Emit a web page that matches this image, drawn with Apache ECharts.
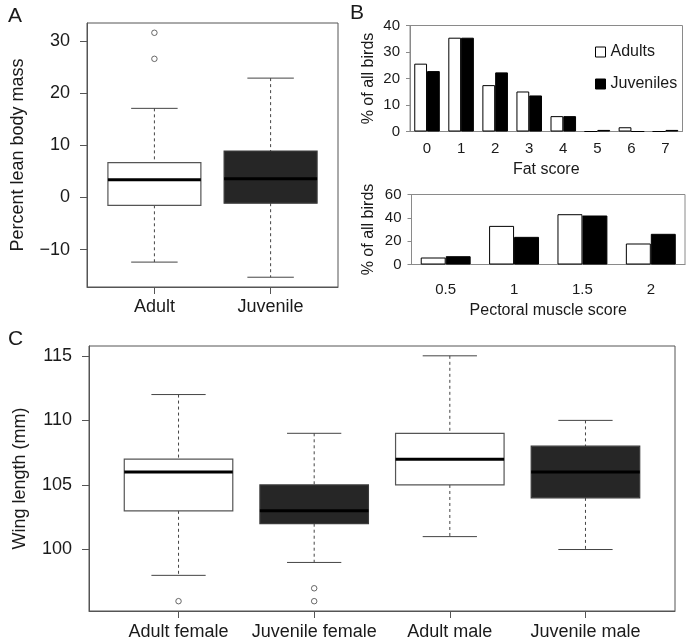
<!DOCTYPE html>
<html>
<head>
<meta charset="utf-8">
<script src="https://cdn.jsdelivr.net/npm/echarts@6/dist/echarts.min.js"></script>
<style>
html,body{margin:0;padding:0;background:#fff;}
#chart{width:688px;height:641px;}
</style>
</head>
<body>
<div id="chart"></div>
<script>
// ---------- Panel A: percent lean body mass ----------
const aCategories = ['Adult', 'Juvenile'];
const aLowWhisker = [-12.4, -15.3];
const aQ1 = [-1.5, -1.1];
const aMedian = [3.4, 3.6];
const aQ3 = [6.7, 8.9];
const aHighWhisker = [17.1, 22.9];
const aOutliers = [[31.6, 26.6], []];
const aTicks = [-10, 0, 10, 20, 30];

// ---------- Panel B: fat score ----------
const fatScores = ['0', '1', '2', '3', '4', '5', '6', '7'];
const fatAdults = [25.6, 35.4, 17.5, 15.1, 5.8, 0, 1.6, 0];
const fatJuveniles = [22.8, 35.4, 22.3, 13.6, 5.8, 0.6, 0, 0.6];

// ---------- Panel B: pectoral muscle score ----------
const muscleScores = ['0.5', '1', '1.5', '2'];
const muscleAdults = [6.0, 33.1, 43.1, 18.0];
const muscleJuveniles = [7.1, 23.7, 42.0, 26.3];

// ---------- Panel C: wing length ----------
const cCategories = ['Adult female', 'Juvenile female', 'Adult male', 'Juvenile male'];
const cLowWhisker = [98, 99, 101, 100];
const cQ1 = [103, 102, 105, 104];
const cMedian = [106, 103, 107, 106];
const cQ3 = [107, 105, 109, 108];
const cHighWhisker = [112, 109, 115, 110];
const cOutliers = [[96], [97, 96], [], []];
const cTicks = [100, 105, 110, 115];

const FONT = '"Liberation Sans", Arial, Helvetica, sans-serif';
const TXT = '#1a1a1a';
const FRAME = '#555';
const XLFRAME = '#8a8a8a';

function boxRows(lo, q1, med, q3, hi) {
  return lo.map((v, i) => [i + 1, lo[i], q1[i], med[i], q3[i], hi[i]]);
}
function outlierRows(out) {
  const rows = [];
  out.forEach((list, i) => list.forEach(v => rows.push([i + 1, v])));
  return rows;
}
function rRange(lo, hi, out) {
  const all = lo.concat(hi, ...out);
  const mn = Math.min(...all), mx = Math.max(...all);
  const pad = 0.04 * (mx - mn);
  return [mn - pad, mx + pad];
}
function xRange(n) {
  return [0.5 - 0.04 * n, n + 0.5 + 0.04 * n];
}
function fmtMinus(v) { return v < 0 ? '\u2212' + Math.abs(v) : String(v); }

function boxRender(params, api) {
  const x = api.value(0);
  const pLo = api.coord([x, api.value(1)]);
  const pQ1 = api.coord([x, api.value(2)]);
  const pMed = api.coord([x, api.value(3)]);
  const pQ3 = api.coord([x, api.value(4)]);
  const pHi = api.coord([x, api.value(5)]);
  const w = api.size([0.8, 0])[0];
  const cx = pLo[0];
  const dark = params.dataIndex % 2 === 1;
  const dash = { stroke: '#444', lineWidth: 1, lineDash: [3, 3] };
  const solid = { stroke: '#444', lineWidth: 1 };
  return {
    type: 'group',
    children: [
      { type: 'line', shape: { x1: cx, y1: pHi[1], x2: cx, y2: pQ3[1] }, style: dash },
      { type: 'line', shape: { x1: cx, y1: pQ1[1], x2: cx, y2: pLo[1] }, style: dash },
      { type: 'line', shape: { x1: cx - w / 4, y1: pHi[1], x2: cx + w / 4, y2: pHi[1] }, style: solid },
      { type: 'line', shape: { x1: cx - w / 4, y1: pLo[1], x2: cx + w / 4, y2: pLo[1] }, style: solid },
      { type: 'rect', shape: { x: cx - w / 2, y: pQ3[1], width: w, height: pQ1[1] - pQ3[1] },
        style: { fill: dark ? '#262626' : '#fff', stroke: dark ? '#3a3a3a' : '#555', lineWidth: 1.2 } },
      { type: 'line', shape: { x1: cx - w / 2, y1: pMed[1], x2: cx + w / 2, y2: pMed[1] },
        style: { stroke: '#000', lineWidth: 3 } }
    ]
  };
}

const aY = rRange(aLowWhisker, aHighWhisker, aOutliers);
const cY = rRange(cLowWhisker, cHighWhisker, cOutliers);
const aX = xRange(aCategories.length);
const cX = xRange(cCategories.length);
const aXticks = aCategories.map((c, i) => i + 1);
const cXticks = cCategories.map((c, i) => i + 1);

function rXAxis(grid, range, ticks, cats, margin) {
  return {
    gridIndex: grid, type: 'value', min: range[0], max: range[1],
    splitLine: { show: false },
    axisLine: { show: true, onZero: false, lineStyle: { color: FRAME } },
    axisTick: { show: true, customValues: ticks, length: 7, lineStyle: { color: FRAME } },
    axisLabel: { customValues: ticks, formatter: v => cats[Math.round(v) - 1], margin: margin,
      fontSize: 18, color: TXT, fontFamily: FONT }
  };
}
function rYAxis(grid, range, ticks, name) {
  return {
    gridIndex: grid, type: 'value', min: range[0], max: range[1],
    splitLine: { show: false },
    axisLine: { show: true, onZero: false, lineStyle: { color: FRAME } },
    axisTick: { show: true, customValues: ticks, length: 7, lineStyle: { color: FRAME } },
    axisLabel: { customValues: ticks, formatter: fmtMinus, margin: 17, fontSize: 18, color: TXT, fontFamily: FONT },
    name: name, nameLocation: 'middle', nameGap: 60,
    nameTextStyle: { fontSize: 18, color: TXT, fontFamily: FONT }
  };
}
function xlXAxis(grid, cats, name, margin, nameGap) {
  return {
    gridIndex: grid, type: 'category', data: cats,
    axisLine: { lineStyle: { color: XLFRAME } },
    axisTick: { length: 5, lineStyle: { color: XLFRAME } },
    axisLabel: { margin: margin, fontSize: 15, color: TXT, fontFamily: FONT },
    name: name, nameLocation: 'middle', nameGap: nameGap,
    nameTextStyle: { fontSize: 16, color: TXT, fontFamily: FONT }
  };
}
function xlYAxis(grid, max, interval, nameGap) {
  return {
    gridIndex: grid, type: 'value', min: 0, max: max, interval: interval,
    splitLine: { show: false },
    axisLine: { show: true, lineStyle: { color: XLFRAME } },
    axisTick: { show: true, length: 4, lineStyle: { color: XLFRAME } },
    axisLabel: { margin: 10, fontSize: 15, color: TXT, fontFamily: FONT },
    name: '% of all birds', nameLocation: 'middle', nameGap: nameGap,
    nameTextStyle: { fontSize: 16, color: TXT, fontFamily: FONT }
  };
}
const adultStyle = { color: '#fff', borderColor: '#000', borderWidth: 1 };
const juvStyle = { color: '#000', borderColor: '#000', borderWidth: 1 };
const outlierStyle = { color: '#fff', borderColor: '#444', borderWidth: 1 };

const option = {
  animation: false,
  backgroundColor: '#fff',
  textStyle: { fontFamily: FONT },
  title: [
    { text: 'A', left: 3, top: 1, textStyle: { fontSize: 21, fontWeight: 'normal', color: TXT, fontFamily: FONT } },
    { text: 'B', left: 345, top: -2, textStyle: { fontSize: 21, fontWeight: 'normal', color: TXT, fontFamily: FONT } },
    { text: 'C', left: 3, top: 324, textStyle: { fontSize: 21, fontWeight: 'normal', color: TXT, fontFamily: FONT } }
  ],
  legend: {
    data: ['Adults', 'Juveniles'], orient: 'vertical', left: 590, top: 39,
    icon: 'rect', itemWidth: 10, itemHeight: 10, itemGap: 16,
    itemStyle: { borderWidth: 1 },
    textStyle: { fontSize: 16, color: TXT, fontFamily: FONT }
  },
  grid: [
    { left: 87, top: 23, width: 251, height: 264, show: true, borderColor: FRAME, borderWidth: 1 },
    { left: 410, top: 25.5, right: 5.5, height: 106, show: true, borderColor: XLFRAME, borderWidth: 1 },
    { left: 411.5, top: 194.5, right: 3, height: 70, show: true, borderColor: XLFRAME, borderWidth: 1 },
    { left: 89, top: 346, right: 13, height: 265, show: true, borderColor: FRAME, borderWidth: 1 }
  ],
  xAxis: [
    rXAxis(0, aX, aXticks, aCategories, 11),
    xlXAxis(1, fatScores, 'Fat score', 10, 30),
    xlXAxis(2, muscleScores, 'Pectoral muscle score', 18, 38),
    rXAxis(3, cX, cXticks, cCategories, 12)
  ],
  yAxis: [
    rYAxis(0, aY, aTicks, 'Percent lean body mass'),
    xlYAxis(1, 40, 10, 33),
    xlYAxis(2, 60, 20, 35),
    rYAxis(3, cY, cTicks, 'Wing length (mm)')
  ],
  series: [
    { type: 'custom', xAxisIndex: 0, yAxisIndex: 0, renderItem: boxRender,
      data: boxRows(aLowWhisker, aQ1, aMedian, aQ3, aHighWhisker), encode: { x: 0, y: [1, 2, 3, 4, 5] } },
    { type: 'scatter', xAxisIndex: 0, yAxisIndex: 0, data: outlierRows(aOutliers),
      symbol: 'circle', symbolSize: 5.5, itemStyle: outlierStyle },
    { name: 'Adults', type: 'bar', xAxisIndex: 1, yAxisIndex: 1, data: fatAdults,
      barGap: '0%', barCategoryGap: '25%', itemStyle: adultStyle },
    { name: 'Juveniles', type: 'bar', xAxisIndex: 1, yAxisIndex: 1, data: fatJuveniles,
      barGap: '0%', barCategoryGap: '25%', itemStyle: juvStyle },
    { name: 'Adults', type: 'bar', xAxisIndex: 2, yAxisIndex: 2, data: muscleAdults,
      barGap: '0%', barCategoryGap: '27%', itemStyle: adultStyle },
    { name: 'Juveniles', type: 'bar', xAxisIndex: 2, yAxisIndex: 2, data: muscleJuveniles,
      barGap: '0%', barCategoryGap: '27%', itemStyle: juvStyle },
    { type: 'custom', xAxisIndex: 3, yAxisIndex: 3, renderItem: boxRender,
      data: boxRows(cLowWhisker, cQ1, cMedian, cQ3, cHighWhisker), encode: { x: 0, y: [1, 2, 3, 4, 5] } },
    { type: 'scatter', xAxisIndex: 3, yAxisIndex: 3, data: outlierRows(cOutliers),
      symbol: 'circle', symbolSize: 5.5, itemStyle: outlierStyle }
  ]
};

const chart = echarts.init(document.getElementById('chart'), null, { renderer: 'canvas' });
chart.setOption(option);
</script>
</body>
</html>
